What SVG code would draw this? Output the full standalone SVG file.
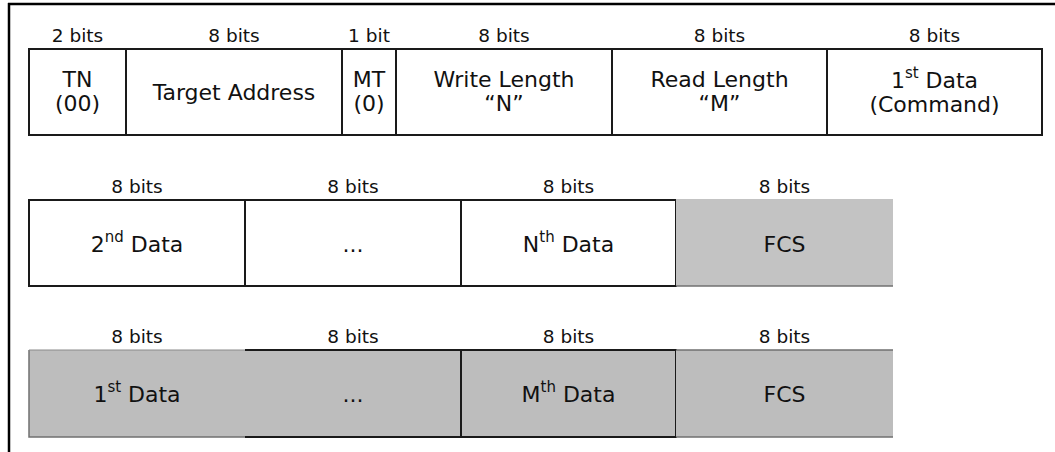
<svg xmlns="http://www.w3.org/2000/svg" width="1055" height="452" viewBox="0 0 1055 452">
<style>
.bits{font-family:"DejaVu Sans","Verdana",sans-serif;font-size:18.5px;fill:#111;text-anchor:middle}
.t{font-family:"DejaVu Sans","Verdana",sans-serif;font-size:22px;fill:#111;text-anchor:middle}
.sup{font-size:15px}
.cell{fill:#fff;stroke:#1a1a1a;stroke-width:2}
.gray{fill:#bdbdbd}
.gline{stroke:#707070;stroke-width:1.5;fill:none}
.bline{stroke:#1a1a1a;stroke-width:2;fill:none}
</style>
<rect width="1055" height="452" fill="#fff"/>
<g id="frame">
<line x1="8" y1="4" x2="1055" y2="4" stroke="#000" stroke-width="2.5"/>
<line x1="9" y1="3" x2="9" y2="452" stroke="#000" stroke-width="2.5"/>
</g>
<g id="row1">
<g id="tn"><text class="bits" x="77.5" y="42">2 bits</text><rect class="cell" x="29" y="49" width="97" height="86"/><text class="t" x="77.5" y="87">TN</text><text class="t" x="77.5" y="111">(00)</text></g>
<g id="target"><text class="bits" x="234" y="42">8 bits</text><rect class="cell" x="126" y="49" width="216" height="86"/><text class="t" x="234" y="100">Target Address</text></g>
<g id="mt"><text class="bits" x="369" y="42">1 bit</text><rect class="cell" x="342" y="49" width="54" height="86"/><text class="t" x="369" y="87">MT</text><text class="t" x="369" y="111">(0)</text></g>
<g id="wlen"><text class="bits" x="504" y="42">8 bits</text><rect class="cell" x="396" y="49" width="216" height="86"/><text class="t" x="504" y="87">Write Length</text><text class="t" x="504" y="111">“N”</text></g>
<g id="rlen"><text class="bits" x="719.5" y="42">8 bits</text><rect class="cell" x="612" y="49" width="215" height="86"/><text class="t" x="719.5" y="87">Read Length</text><text class="t" x="719.5" y="111">“M”</text></g>
<g id="cmd"><text class="bits" x="934.5" y="42">8 bits</text><rect class="cell" x="827" y="49" width="215" height="86"/><text class="t" x="934.5" y="88">1<tspan class="sup" dy="-10">st</tspan><tspan dy="10"> Data</tspan></text><text class="t" x="934.5" y="112">(Command)</text></g>
</g>
<g id="row2">
<g id="d2"><text class="bits" x="137" y="193">8 bits</text><rect class="cell" x="29" y="200" width="216" height="86"/><text class="t" x="137" y="252">2<tspan class="sup" dy="-10">nd</tspan><tspan dy="10"> Data</tspan></text></g>
<g id="dots1"><text class="bits" x="353" y="193">8 bits</text><rect class="cell" x="245" y="200" width="216" height="86"/><text class="t" x="353" y="252">...</text></g>
<g id="dn"><text class="bits" x="568.5" y="193">8 bits</text><rect class="cell" x="461" y="200" width="215" height="86"/><text class="t" x="568.5" y="252">N<tspan class="sup" dy="-10">th</tspan><tspan dy="10"> Data</tspan></text></g>
<g id="fcs1"><text class="bits" x="784.5" y="193">8 bits</text><rect fill="#c3c3c3" x="676" y="199" width="217" height="87"/><line class="gline" x1="676" y1="286" x2="893" y2="286"/><text class="t" x="784.5" y="252">FCS</text></g>
</g>
<g id="row3">
<g id="r1"><text class="bits" x="137" y="343">8 bits</text><rect class="gray" x="29" y="350" width="216" height="87"/><path class="gline" d="M29 350 V437 H245"/><line stroke="#8a8a8a" stroke-width="1" x1="29" y1="350" x2="245" y2="350"/><text class="t" x="137" y="402">1<tspan class="sup" dy="-10">st</tspan><tspan dy="10"> Data</tspan></text></g>
<g id="dots2"><text class="bits" x="353" y="343">8 bits</text><rect class="gray" x="245" y="350" width="216" height="87"/><path class="bline" d="M245 350 H461 M245 437 H461"/><text class="t" x="353" y="402">...</text></g>
<g id="rm"><text class="bits" x="568.5" y="343">8 bits</text><rect class="gray" x="461" y="350" width="215" height="87" stroke="#1a1a1a" stroke-width="2"/><text class="t" x="568.5" y="402">M<tspan class="sup" dy="-10">th</tspan><tspan dy="10"> Data</tspan></text></g>
<g id="fcs2"><text class="bits" x="784.5" y="343">8 bits</text><rect class="gray" x="676" y="350" width="217" height="87"/><path class="gline" d="M676 350 H893 M676 437 H893"/><text class="t" x="784.5" y="402">FCS</text></g>
</g>
<g id="connectors"/>
</svg>
